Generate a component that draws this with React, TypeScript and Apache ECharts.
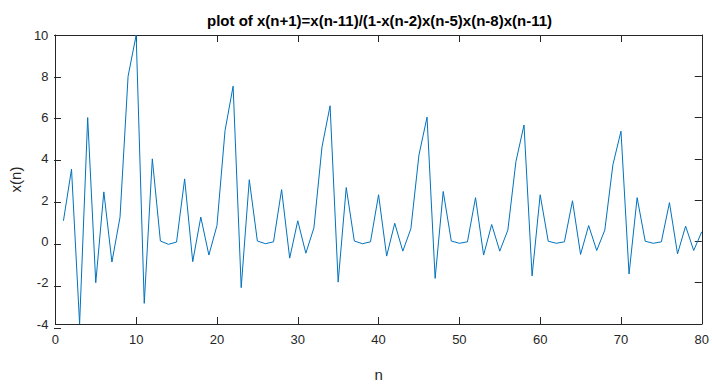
import React, { useEffect, useRef } from "react";
import * as echarts from "echarts";

const titleText = "plot of x(n+1)=x(n-11)/(1-x(n-2)x(n-5)x(n-8)x(n-11)";
const xLabel = "n";
const yLabel = "x(n)";

const nValues: number[] = [
  1, 2, 3, 4, 5, 6, 7, 8, 9, 10,
  11, 12, 13, 14, 15, 16, 17, 18, 19, 20,
  21, 22, 23, 24, 25, 26, 27, 28, 29, 30,
  31, 32, 33, 34, 35, 36, 37, 38, 39, 40,
  41, 42, 43, 44, 45, 46, 47, 48, 49, 50,
  51, 52, 53, 54, 55, 56, 57, 58, 59, 60,
  61, 62, 63, 64, 65, 66, 67, 68, 69, 70,
  71, 72, 73, 74, 75, 76, 77, 78, 79, 80,
];

const xValues: number[] = [
  1, 3.5, -4, 6, -2, 2.4, -1, 1.17, 8, 10,
  -3, 4, 0.02, -0.14, -0.03, 3.03, -0.98, 1.18, -0.66, 0.77,
  5.37, 7.52, -2.24, 2.99, 0.02, -0.11, -0.02, 2.51, -0.81, 1.0,
  -0.57, 0.66, 4.58, 6.57, -1.97, 2.61, 0.02, -0.11, -0.02, 2.26,
  -0.71, 0.88, -0.47, 0.62, 4.19, 6.02, -1.79, 2.42, 0.02, -0.09,
  -0.02, 2.12, -0.66, 0.82, -0.47, 0.55, 3.87, 5.64, -1.67, 2.26,
  0.01, -0.09, -0.02, 1.97, -0.63, 0.77, -0.44, 0.55, 3.71, 5.34,
  -1.58, 2.12, 0.01, -0.09, -0.02, 1.88, -0.6, 0.74, -0.44, 0.47,
];

const axisColor = "#262626";
const fontFamily = "'Liberation Sans', Arial, Helvetica, sans-serif";

const mkLine = (show = true) => ({ show, onZero: false, lineStyle: { color: axisColor, width: 1 } });
const mkTick = (show = true, inside = true) => ({ show, inside, length: 7, lineStyle: { color: axisColor, width: 1 } });

export default function App() {
  const ref = useRef<HTMLDivElement>(null);
  useEffect(() => {
    if (!ref.current) return;
    const chart = echarts.init(ref.current, null, { renderer: "svg" });
    const data = nValues.map((n, i) => [n, xValues[i]]);
    chart.setOption({
      animation: false,
      backgroundColor: "#ffffff",
      title: {
        text: titleText,
        left: 374.5,
        top: 8,
        textAlign: "center",
        textStyle: { fontFamily, fontSize: 15, fontWeight: "bold", color: "#000000" },
      },
      grid: [
        { left: 54, top: 35, width: 651, height: 293, containLabel: false },
        { left: 0, top: 35, width: 61, height: 293, containLabel: false },
      ],
      xAxis: [
        {
          type: "value",
          gridIndex: 0,
          min: 0,
          max: 80,
          interval: 10,
          position: "bottom",
          name: xLabel,
          nameLocation: "middle",
          nameGap: 43,
          nameTextStyle: { fontFamily, fontSize: 15, color: axisColor },
          axisLine: mkLine(),
          axisTick: mkTick(),
          axisLabel: { fontFamily, fontSize: 13, color: axisColor, margin: 9 },
          splitLine: { show: false },
        },
        {
          type: "value",
          gridIndex: 0,
          min: 0,
          max: 80,
          interval: 10,
          position: "top",
          axisLine: mkLine(),
          axisTick: mkTick(),
          axisLabel: { show: false },
          splitLine: { show: false },
        },
        {
          type: "value",
          gridIndex: 1,
          show: false,
          min: 0,
          max: 10,
          interval: 10,
        },
      ],
      yAxis: [
        {
          type: "value",
          gridIndex: 0,
          min: -4,
          max: 10,
          interval: 2,
          position: "left",
          name: yLabel,
          nameLocation: "middle",
          nameGap: 25,
          nameRotate: 90,
          nameTextStyle: { fontFamily, fontSize: 15, color: axisColor },
          axisLine: mkLine(),
          axisTick: mkTick(false),
          axisLabel: { fontFamily, fontSize: 13, color: axisColor, margin: 7 },
          splitLine: { show: false },
        },
        {
          type: "value",
          gridIndex: 0,
          min: -4,
          max: 10,
          interval: 2,
          position: "right",
          axisLine: mkLine(),
          axisTick: mkTick(),
          axisLabel: { show: false },
          splitLine: { show: false },
        },
        {
          type: "value",
          gridIndex: 1,
          min: -4,
          max: 10,
          interval: 2,
          position: "right",
          axisLine: mkLine(false),
          axisTick: mkTick(true, true),
          axisLabel: { show: false },
          splitLine: { show: false },
        },
      ],
      series: [
        {
          type: "line",
          xAxisIndex: 0,
          yAxisIndex: 0,
          data,
          showSymbol: false,
          symbol: "none",
          lineStyle: { color: "#0072BD", width: 1 },
        },
      ],
    });
    return () => chart.dispose();
  }, []);
  return <div ref={ref} style={{ width: 712, height: 387, position: "fixed", left: 0, top: 0 }} />;
}
